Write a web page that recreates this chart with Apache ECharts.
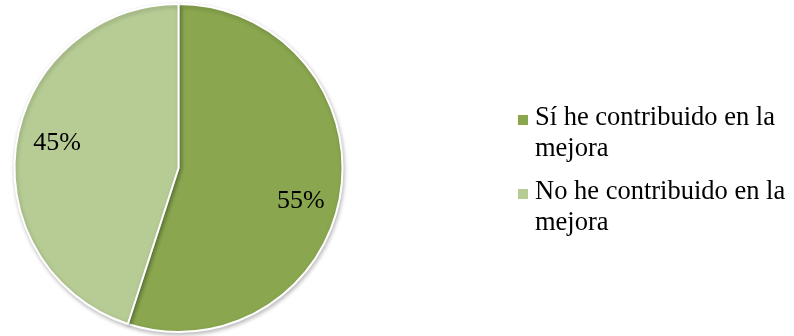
<!DOCTYPE html>
<html>
<head>
<meta charset="utf-8">
<script src="https://cdn.jsdelivr.net/npm/echarts@6/dist/echarts.min.js"></script>
<style>
html,body{margin:0;padding:0;background:#fff;}
#c{width:794px;height:336px;}
</style>
</head>
<body>
<div id="c"></div>
<script>
const categories = ["Sí he contribuido en la mejora", "No he contribuido en la mejora"];
const values = [55, 45];
const colors = ["#8AA74F", "#B7CC95"];

const chart = echarts.init(document.getElementById('c'), null, {renderer: 'canvas'});
const R = 164;
const center = [178.5, 168];
const font = '"Liberation Serif", "Times New Roman", serif';

const pieData = categories.map((name, i) => ({name: name, value: values[i], itemStyle: {color: colors[i]}}));
const labelData = categories.map((name, i) => ({
  name: name, value: values[i],
  label: i === 0 ? {offset: [-2, 13]} : {offset: [3, -5]}
}));

chart.setOption({
  animation: false,
  legend: {
    orient: 'vertical',
    left: 513,
    top: 98,
    itemWidth: 10,
    itemHeight: 62,
    itemGap: 12,
    icon: 'path://M0,0L0,0M0,12L10,12L10,22L0,22ZM10,62L10,62',
    itemStyle: {borderWidth: 0},
    data: categories,
    formatter: name => name.replace(' mejora', '\nmejora'),
    textStyle: {
      fontFamily: font,
      fontSize: 26.5,
      lineHeight: 31,
      color: '#000',
      padding: [0, 0, 0, 2]
    }
  },
  series: [
    {
      type: 'pie',
      center: center,
      radius: [0, R],
      startAngle: 90,
      clockwise: true,
      silent: true,
      label: {show: false},
      labelLine: {show: false},
      itemStyle: {
        borderColor: '#fff',
        borderWidth: 2,
        shadowBlur: 4,
        shadowColor: 'rgba(0,0,0,0.25)',
        shadowOffsetX: 1,
        shadowOffsetY: 2
      },
      data: pieData
    },
    {
      type: 'pie',
      center: center,
      radius: [R * 0.5, R],
      startAngle: 90,
      clockwise: true,
      silent: true,
      legendHoverLink: false,
      itemStyle: {color: 'rgba(0,0,0,0)'},
      label: {
        show: true,
        position: 'inside',
        formatter: p => p.value + '%',
        fontFamily: font,
        fontSize: 26,
        color: '#000'
      },
      labelLine: {show: false},
      data: labelData
    }
  ]
});
</script>
</body>
</html>
